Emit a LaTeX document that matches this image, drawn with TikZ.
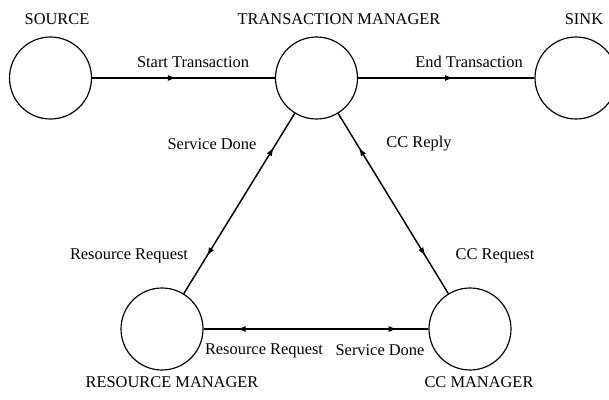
\documentclass[tikz,border=0pt]{standalone}
\usepackage{fontspec}
\setmainfont{Liberation Serif}
\usepackage{tikz}
\usetikzlibrary{arrows.meta,decorations.markings}

\tikzset{
	station/.style={draw, circle, line width=1pt, minimum size=2.46cm, inner sep=0pt},
	lbl/.style={font=\fontsize{14}{16}\selectfont, inner sep=0pt},
	flow/.style={line width=1pt, postaction={decorate},
		decoration={markings, mark=at position #1 with {\arrow{Latex[length=7pt,width=5pt]}}}}
}

\begin{document}
\begin{tikzpicture}
		\useasboundingbox (0,0) rectangle (18.27,-11.97);
		\clip (0,0) rectangle (18.27,-11.97);

		\node[station] (src) at (1.515,-2.34) {};
		\node[station] (tm) at (9.495,-2.34) {};
		\node[station] (sink) at (17.28,-2.34) {};
		\node[station] (rm) at (4.86,-9.87) {};
		\node[station] (cc) at (14.1,-9.87) {};

		\node[lbl] (srcname) at (1.71,-0.57) {SOURCE};
		\node[lbl] (tmname) at (10.17,-0.57) {TRANSACTION MANAGER};
		\node[lbl] (sinkname) at (17.52,-0.57) {SINK};
		\node[lbl] (rmname) at (5.16,-11.46) {RESOURCE MANAGER};
		\node[lbl] (ccname) at (14.37,-11.46) {CC MANAGER};

		\draw[flow=0.46] (src) -- (tm);
		\draw[flow=0.54] (tm) -- (sink);
		\draw[flow=0.79] (tm) -- (rm);
		\draw[flow=0.81] (rm) -- (tm);
		\draw[flow=0.79] (tm) -- (cc);
		\draw[flow=0.81] (cc) -- (tm);
		\draw[flow=0.86] (rm) -- (cc);
		\draw[flow=0.85] (cc) -- (rm);

		\node[lbl] (start) at (5.79,-1.86) {Start Transaction};
		\node[lbl] (end) at (14.07,-1.86) {End Transaction};
		\node[lbl] (rmdone) at (6.36,-4.32) {Service Done};
		\node[lbl] (ccreply) at (12.57,-4.32) {CC Reply};
		\node[lbl] (rmreq) at (3.87,-7.68) {Resource Request};
		\node[lbl] (ccreq) at (14.85,-7.68) {CC Request};
		\node[lbl] (rmreq2) at (7.92,-10.53) {Resource Request};
		\node[lbl] (ccdone) at (11.4,-10.5) {Service Done};
	\end{tikzpicture}
\end{document}
